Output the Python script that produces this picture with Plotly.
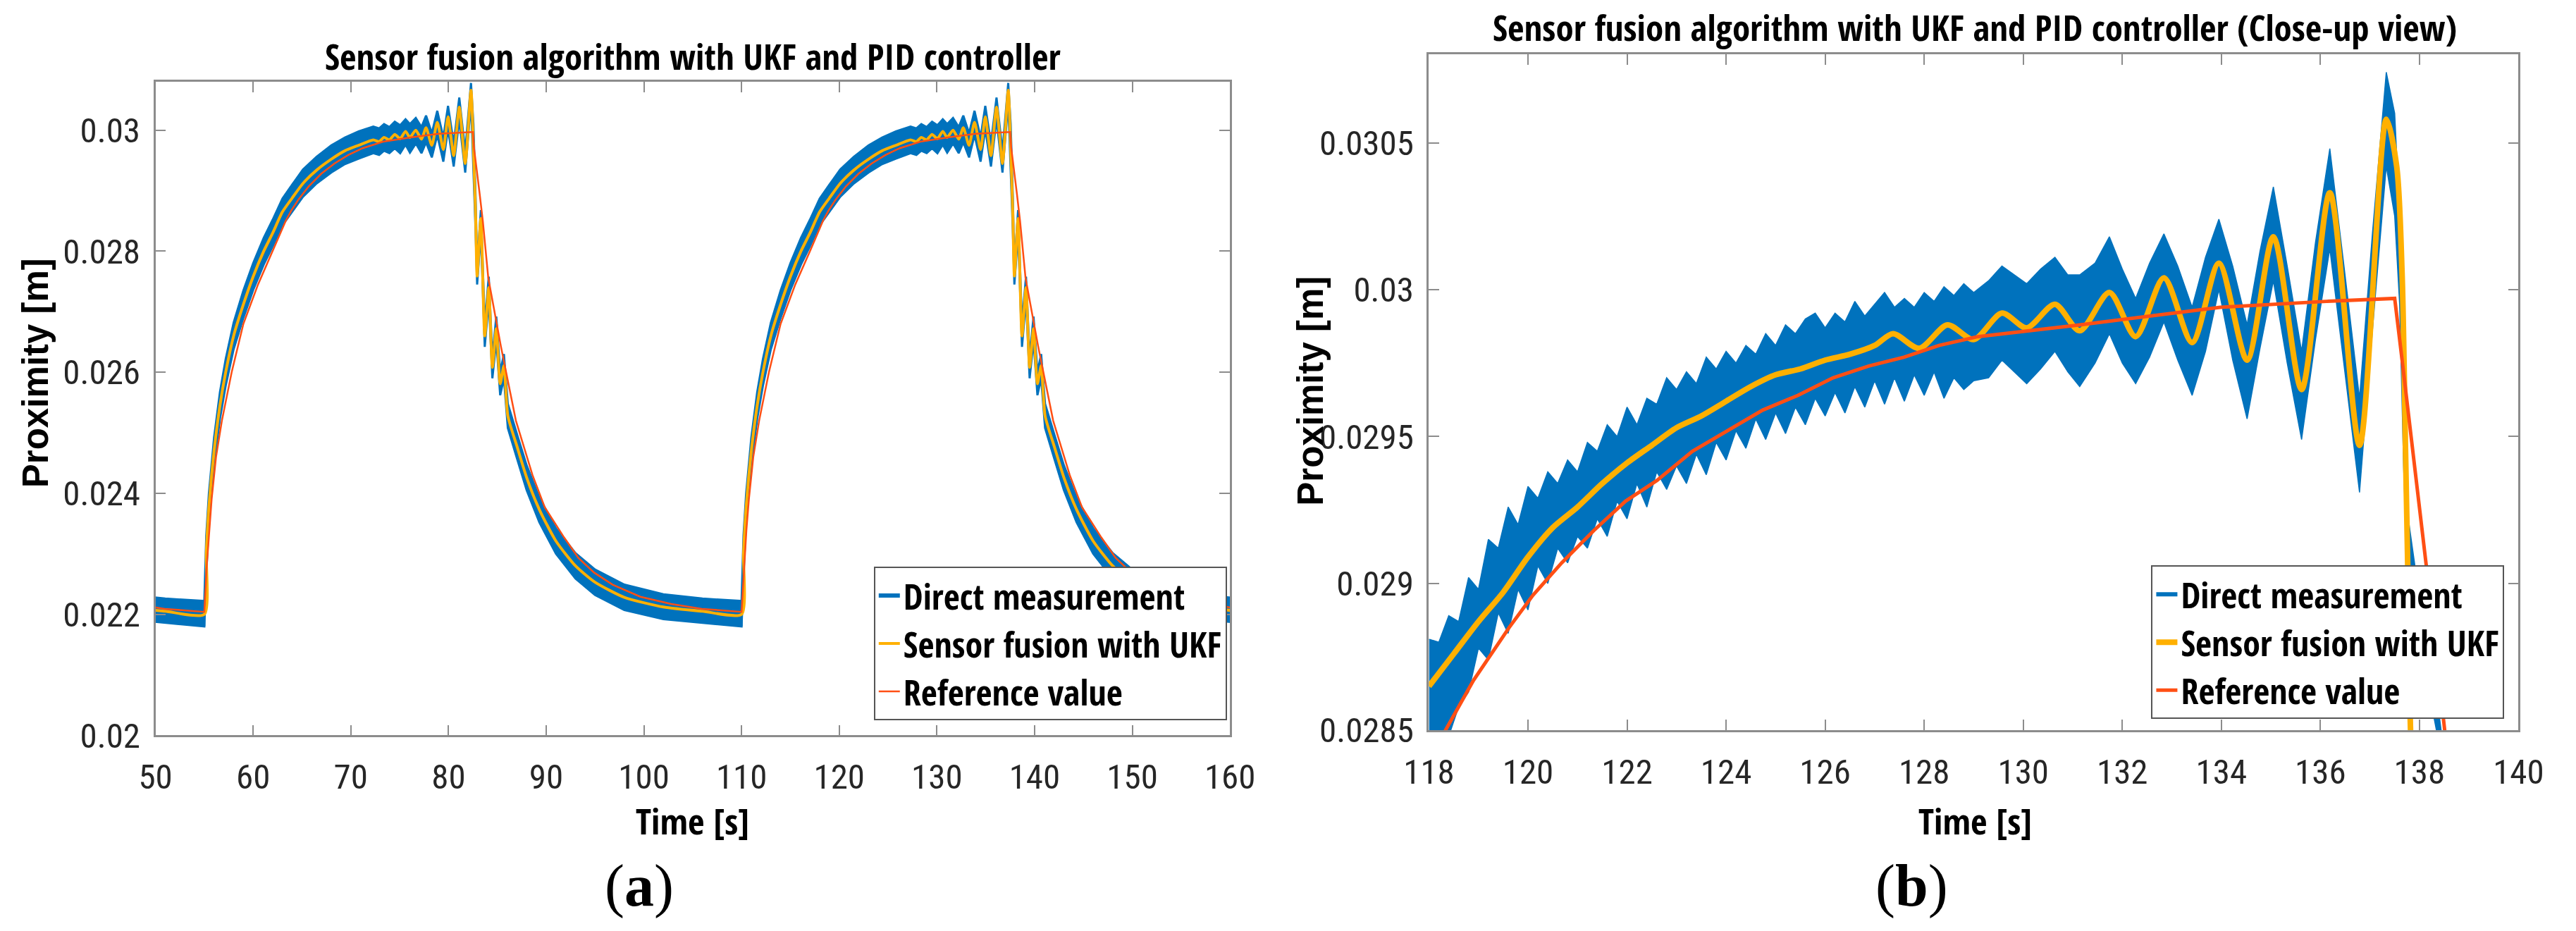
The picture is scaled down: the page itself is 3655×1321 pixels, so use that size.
import plotly.graph_objects as go

# ---------------- (a) one control cycle, time counted from the step up [s] ----------------
cycle_starts = [0, 55, 110]

t_a = [0.0, 0.2, 0.47, 1.0, 1.6, 2.19, 3.0, 4.0, 5.0, 6.08, 7.0, 8.0, 9.0, 10.1, 11.5, 13.0,
       14.4, 15.8, 17.3, 17.9, 18.4, 18.95, 19.5, 20.05, 20.6, 21.05, 21.65, 22.23, 22.7, 23.29,
       23.85, 24.47, 24.95, 25.53, 26.1, 26.71, 27.3, 27.55, 27.77, 27.93, 28.31, 28.71, 29.12,
       29.49, 29.89, 30.29, 30.67, 31.07, 32.0, 33.0, 34.3, 36.0, 38.0, 40.0, 43.0, 47.0, 51.0, 55.0]
ukf_a = [0.02200, 0.02300, 0.02377, 0.02470, 0.02545, 0.02600, 0.02660, 0.02712, 0.02758, 0.02800,
         0.02830, 0.02865, 0.02888, 0.02912, 0.02934, 0.02952, 0.02966, 0.02975, 0.02984, 0.02981,
         0.02988, 0.02984, 0.02993, 0.02986, 0.02998, 0.02988, 0.03000, 0.02985, 0.03004, 0.02975,
         0.03013, 0.02968, 0.03022, 0.02958, 0.03038, 0.02945, 0.03066, 0.02970, 0.02861, 0.02759,
         0.02854, 0.02660, 0.02740, 0.02608, 0.02672, 0.02581, 0.02611, 0.02528, 0.02478, 0.02426,
         0.02373, 0.02321, 0.02280, 0.02253, 0.02228, 0.02212, 0.02205, 0.02200]
# upper / lower edge of the noisy direct measurement band
meas_a_hi = [0.02222, 0.02330, 0.02400, 0.02492, 0.02567, 0.02622, 0.02682, 0.02735, 0.02780, 0.02822,
             0.02852, 0.02887, 0.02910, 0.02935, 0.02956, 0.02975, 0.02988, 0.02998, 0.03006, 0.03003,
             0.03010, 0.03005, 0.03014, 0.03008, 0.03018, 0.03010, 0.03020, 0.03005, 0.03024, 0.02995,
             0.03032, 0.02988, 0.03040, 0.02978, 0.03054, 0.02965, 0.03078, 0.03010, 0.02890, 0.02775,
             0.02868, 0.02680, 0.02758, 0.02625, 0.02692, 0.02600, 0.02630, 0.02548, 0.02498, 0.02446,
             0.02393, 0.02342, 0.02301, 0.02274, 0.02249, 0.02233, 0.02226, 0.02222]
meas_a_lo = [0.02180, 0.02265, 0.02355, 0.02448, 0.02523, 0.02578, 0.02638, 0.02690, 0.02736, 0.02778,
             0.02808, 0.02843, 0.02866, 0.02890, 0.02912, 0.02930, 0.02944, 0.02953, 0.02962, 0.02959,
             0.02966, 0.02962, 0.02970, 0.02962, 0.02976, 0.02963, 0.02978, 0.02962, 0.02980, 0.02955,
             0.02992, 0.02948, 0.03002, 0.02940, 0.03018, 0.02930, 0.03046, 0.02940, 0.02835, 0.02745,
             0.02832, 0.02642, 0.02720, 0.02590, 0.02652, 0.02562, 0.02590, 0.02508, 0.02458, 0.02405,
             0.02352, 0.02300, 0.02259, 0.02232, 0.02207, 0.02192, 0.02186, 0.02180]

t_ref_a = [0.0, 0.25, 0.5, 0.75, 1.2, 1.8, 2.8, 4.0, 5.5, 7.0, 8.33, 8.9, 9.62, 10.68, 11.97, 13.32,
           14.74, 16.16, 18.3, 21.1, 24.0, 27.5, 27.6, 28.18, 28.51, 29.07, 30.36, 31.9, 33.6, 34.85,
           36.75, 38.3, 39.9, 41.8, 44.64, 47.8, 50.95, 55.0]
ref_a = [0.02204, 0.0228, 0.0234, 0.0239, 0.0246, 0.0252, 0.0260, 0.0268, 0.02745, 0.0280, 0.0285,
         0.02867, 0.02885, 0.02907, 0.02928, 0.02945, 0.02959, 0.02970, 0.02981, 0.02988, 0.02994,
         0.02997, 0.02972, 0.02896, 0.0285, 0.02756, 0.02643, 0.0252, 0.0243, 0.02377, 0.02329,
         0.02293, 0.02269, 0.02249, 0.02229, 0.02217, 0.02209, 0.02204]

# ---------------- (b) close-up, absolute time [s] ----------------
t_ukf_b = [118.0, 118.5, 119.0, 119.5, 120.0, 120.5, 121.0, 121.5, 122.0, 122.5, 123.0, 123.5, 124.0,
           124.5, 125.0, 125.5, 126.0, 126.5, 127.0, 127.37, 127.9, 128.47, 129.0, 129.57, 130.07,
           130.64, 131.14, 131.74, 132.27, 132.84, 133.41, 133.95, 134.52, 135.05, 135.62, 136.19,
           136.79, 137.33, 137.54, 137.65, 137.72, 137.77, 137.82, 137.9]
ukf_b = [0.02865, 0.02876, 0.02887, 0.02897, 0.02909, 0.02919, 0.02926, 0.02934, 0.02941, 0.02947,
         0.02953, 0.02957, 0.02962, 0.02967, 0.02971, 0.02973, 0.02976, 0.02978, 0.02981, 0.02985,
         0.02980, 0.02988, 0.02983, 0.02992, 0.02987, 0.02995, 0.02986, 0.02999, 0.02984, 0.03004,
         0.02982, 0.03009, 0.02976, 0.03018, 0.02966, 0.03033, 0.02947, 0.03058, 0.03042, 0.03005,
         0.02944, 0.02900, 0.02850, 0.02820]

t_meas_b = [118.0, 118.2, 118.4, 118.6, 118.8, 119.0, 119.2, 119.4, 119.6, 119.8, 120.0, 120.2, 120.4,
            120.6, 120.8, 121.0, 121.2, 121.4, 121.6, 121.8, 122.0, 122.2, 122.4, 122.6, 122.8, 123.0,
            123.2, 123.4, 123.6, 123.8, 124.0, 124.2, 124.4, 124.6, 124.8, 125.0, 125.2, 125.4, 125.6,
            125.8, 126.0, 126.2, 126.4, 126.6, 126.8, 127.0, 127.2, 127.4, 127.6, 127.8, 128.0, 128.2,
            128.4, 128.6, 128.8, 129.0,
            129.3, 129.57, 129.82, 130.07, 130.35, 130.64, 130.9, 131.14, 131.45, 131.74, 132.0, 132.27,
            132.55, 132.84, 133.12, 133.41, 133.68, 133.95, 134.23, 134.52, 134.78, 135.05, 135.33,
            135.62, 135.9, 136.19, 136.49, 136.79, 137.05, 137.33, 137.5, 137.6, 137.68, 137.75, 138.0,
            138.4, 138.55]
meas_b_hi = [0.02881, 0.02880, 0.02889, 0.02887, 0.02902, 0.02898, 0.02915, 0.02912, 0.02926, 0.02920,
             0.02933, 0.02929, 0.02938, 0.02934, 0.02942, 0.02938, 0.02948, 0.02945, 0.02954, 0.02950,
             0.02960, 0.02954, 0.02963, 0.02961, 0.02970, 0.02966, 0.02972, 0.02968, 0.02977, 0.02973,
             0.02979, 0.02975, 0.02981, 0.02978, 0.02985, 0.02981, 0.02988, 0.02985, 0.02990, 0.02992,
             0.02987, 0.02992, 0.02989, 0.02996, 0.02991, 0.02995, 0.02999, 0.02994, 0.02997, 0.02994,
             0.02999, 0.02996, 0.03001, 0.02998, 0.03002, 0.02999,
             0.03003, 0.03008, 0.03005, 0.03002, 0.03007, 0.03011, 0.03005, 0.03005, 0.03009, 0.03018,
             0.03007, 0.02997, 0.03009, 0.03019, 0.03008, 0.02994, 0.03011, 0.03024, 0.03008, 0.02988,
             0.03013, 0.03035, 0.03008, 0.02979, 0.03016, 0.03048, 0.03006, 0.02963, 0.03019, 0.03074,
             0.03060, 0.03025, 0.02960, 0.02925, 0.02895, 0.02855, 0.02835]
meas_b_lo = [0.02845, 0.02850, 0.02848, 0.02858, 0.02863, 0.02878, 0.02874, 0.02890, 0.02883, 0.02898,
             0.02891, 0.02906, 0.02900, 0.02912, 0.02907, 0.02916, 0.02912, 0.02922, 0.02916, 0.02928,
             0.02922, 0.02934, 0.02926, 0.02938, 0.02932, 0.02940, 0.02934, 0.02944, 0.02937, 0.02948,
             0.02942, 0.02952, 0.02946, 0.02956, 0.02949, 0.02958, 0.02951, 0.02960, 0.02954, 0.02963,
             0.02957, 0.02965, 0.02958, 0.02967, 0.02960, 0.02969, 0.02961, 0.02970, 0.02962, 0.02971,
             0.02964, 0.02972, 0.02963, 0.02970, 0.02966, 0.02969,
             0.02970, 0.02976, 0.02972, 0.02968, 0.02973, 0.02979, 0.02972, 0.02967, 0.02975, 0.02985,
             0.02975, 0.02968, 0.02977, 0.02989, 0.02976, 0.02964, 0.02979, 0.03000, 0.02976, 0.02956,
             0.02980, 0.03003, 0.02975, 0.02949, 0.02983, 0.03014, 0.02973, 0.02931, 0.02986, 0.03042,
             0.03025, 0.02995, 0.02940, 0.02905, 0.02880, 0.02845, 0.02825]

t_ref_b = [118.0, 118.33, 118.9, 119.62, 120.1, 120.68, 121.33, 121.97, 122.6, 123.32, 124.03, 124.74,
           125.45, 126.16, 126.88, 127.59, 128.3, 129.08, 131.14, 133.98, 136.12, 137.5, 137.65,
           138.18, 138.51, 138.7]
ref_b = [0.02840, 0.02850, 0.02867, 0.02885, 0.02896, 0.02907, 0.02918, 0.02928, 0.02935, 0.02945,
         0.02952, 0.02959, 0.02964, 0.02970, 0.02974, 0.02977, 0.02981, 0.02984, 0.02988, 0.02994,
         0.02996, 0.02997, 0.02976, 0.02900, 0.02850, 0.02825]

BLUE = "#0072BD"
YELLOW = "#FFB000"
RED = "#FF4F14"
COND_BOLD = "Open Sans Condensed, Roboto Condensed, sans-serif"
COND = "Roboto Condensed, DejaVu Sans Condensed, sans-serif"
SANS = "Liberation Sans, Arial, sans-serif"
SERIF = "Liberation Serif, Times New Roman, serif"
names = ["Direct measurement", "Sensor fusion with UKF", "Reference value"]

fig = go.Figure()

# legend entries for the measurement (drawn as a band below)
for xa, ya, lg in [("x", "y", "legend"), ("x2", "y2", "legend2")]:
    fig.add_trace(go.Scatter(x=[None], y=[None], mode="lines", name=names[0], legendrank=1,
                             line=dict(color=BLUE, width=6), xaxis=xa, yaxis=ya, legend=lg))

# (a) measurement band, one polygon per cycle
for start in cycle_starts:
    xs = [start + t for t in t_a]
    fig.add_trace(go.Scatter(x=xs + xs[::-1], y=meas_a_hi + meas_a_lo[::-1], mode="lines",
                             fill="toself", fillcolor=BLUE, line=dict(color=BLUE, width=3),
                             showlegend=False, hoverinfo="skip"))

# the cycles are joined end to start, so skip the repeated first sample of later cycles
ux, uy, rx, ry = [], [], [], []
for k, start in enumerate(cycle_starts):
    skip = 0 if k == 0 else 1
    ux += [start + t for t in t_a[skip:]]
    uy += ukf_a[skip:]
    rx += [start + t for t in t_ref_a[skip:]]
    ry += ref_a[skip:]
fig.add_trace(go.Scatter(x=ux, y=uy, mode="lines", name=names[1], legendrank=2,
                         line=dict(color=YELLOW, width=4, shape="spline", smoothing=0.6),
                         legend="legend"))
fig.add_trace(go.Scatter(x=rx, y=ry, mode="lines", name=names[2], legendrank=3,
                         line=dict(color=RED, width=2.5), legend="legend"))

# (b) close-up
fig.add_trace(go.Scatter(x=t_meas_b + t_meas_b[::-1], y=meas_b_hi + meas_b_lo[::-1], mode="lines",
                         fill="toself", fillcolor=BLUE, line=dict(color=BLUE, width=1.5),
                         showlegend=False, hoverinfo="skip", xaxis="x2", yaxis="y2"))
fig.add_trace(go.Scatter(x=t_ukf_b, y=ukf_b, mode="lines", name=names[1], legendrank=2,
                         line=dict(color=YELLOW, width=8, shape="spline", smoothing=0.8),
                         xaxis="x2", yaxis="y2", legend="legend2"))
fig.add_trace(go.Scatter(x=t_ref_b, y=ref_b, mode="lines", name=names[2], legendrank=3,
                         line=dict(color=RED, width=5), xaxis="x2", yaxis="y2", legend="legend2"))

axis_style = dict(showline=True, linecolor="#8c8c8c", linewidth=2.5, mirror="ticks",
                  ticks="inside", ticklen=15, tickwidth=2, tickcolor="#8c8c8c",
                  showgrid=False, zeroline=False,
                  tickfont=dict(family=COND, size=49, color="#262626"))

legend_style = dict(bgcolor="white", bordercolor="#555555", borderwidth=2, itemwidth=30,
                    font=dict(family=COND_BOLD, size=50, color="black"),
                    xanchor="right", yanchor="bottom", traceorder="normal")

fig.update_layout(
    width=3655, height=1321,
    margin=dict(l=0, r=0, t=0, b=0),
    paper_bgcolor="white", plot_bgcolor="white",
    showlegend=True,
    xaxis=dict(domain=[0.05152, 0.47702], range=[50, 160], anchor="y",
               tickvals=[50, 60, 70, 80, 90, 100, 110, 120, 130, 140, 150, 160],
               ticklabelstandoff=14, **axis_style),
    yaxis=dict(domain=[0.19243, 0.91022], range=[0.02, 0.0308], anchor="x",
               tickvals=[0.02, 0.022, 0.024, 0.026, 0.028, 0.03],
               ticktext=["0.02", "0.022", "0.024", "0.026", "0.028", "0.03"],
               ticklabelstandoff=9, **axis_style),
    xaxis2=dict(domain=[0.55581, 0.98728], range=[118, 140], anchor="y2",
                tickvals=[118, 120, 122, 124, 126, 128, 130, 132, 134, 136, 138, 140],
                ticklabelstandoff=14, **axis_style),
    yaxis2=dict(domain=[0.19795, 0.94005], range=[0.0285, 0.0308], anchor="x2",
                tickvals=[0.0285, 0.029, 0.0295, 0.03, 0.0305],
                ticktext=["0.0285", "0.029", "0.0295", "0.03", "0.0305"],
                ticklabelstandoff=9, **axis_style),
    legend=dict(x=0.4758, y=0.2089, **legend_style),
    legend2=dict(x=0.9817, y=0.2104, **legend_style),
)

ann = dict(xref="paper", yref="paper", showarrow=False, xanchor="center", yanchor="middle")
title_font = dict(family=COND_BOLD, size=51, color="black")
fig.add_annotation(text="Sensor fusion algorithm with UKF and PID controller",
                   x=0.2643, y=0.9387, font=title_font, **ann)
fig.add_annotation(text="Sensor fusion algorithm with UKF and PID controller (Close-up view)",
                   x=0.7721, y=0.9705, font=title_font, **ann)
fig.add_annotation(text="Time [s]", x=0.2643, y=0.0992, font=title_font, **ann)
fig.add_annotation(text="Time [s]", x=0.7721, y=0.0992, font=title_font, **ann)
fig.add_annotation(text="<b>Proximity [m]</b>", x=0.0123, y=0.5905, textangle=-90, xshift=-30,
                   font=dict(family=SANS, size=51, color="black"), **ann)
fig.add_annotation(text="<b>Proximity [m]</b>", x=0.5105, y=0.5708, textangle=-90, xshift=-6,
                   font=dict(family=SANS, size=51, color="black"), **ann)
fig.add_annotation(text="(<b>a</b>)", x=0.2430, y=0.0273,
                   font=dict(family=SERIF, size=84, color="black"), **ann)
fig.add_annotation(text="(<b>b</b>)", x=0.7469, y=0.0273,
                   font=dict(family=SERIF, size=84, color="black"), **ann)

fig.write_html("out.html", config={"displayModeBar": False},
               post_script="document.body.style.margin='0';document.body.style.overflow='hidden';")
